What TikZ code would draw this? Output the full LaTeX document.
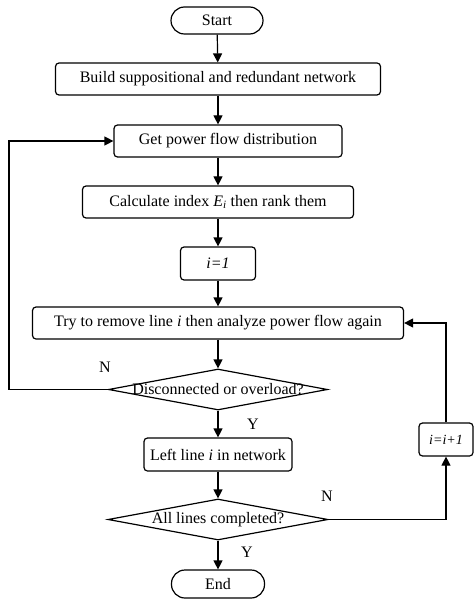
\documentclass[tikz,border=0pt]{standalone}
\usepackage{fontspec}
\setmainfont{Liberation Serif}
\usetikzlibrary{arrows.meta,shapes.geometric}
\begin{document}
\begin{tikzpicture}[x=1bp,y=-1bp,
  every node/.style={font=\fontsize{16bp}{19bp}\selectfont},
  proc/.style={draw, line width=1.2bp, rounded corners=3.5bp, inner sep=0pt, minimum height=32bp},
  term/.style={draw, line width=1.2bp, rounded corners=13.5bp, inner sep=0pt, minimum height=27bp},
  decision/.style={draw, diamond, line width=1.2bp, inner sep=0pt},
  arr/.style={draw, line width=1.2bp, -{Triangle[length=9bp,width=9bp]}},
  tag/.style={inner sep=0pt}]
  \useasboundingbox (0,0) rectangle (474,601);

  % main column
  \node[term, minimum width=92bp]  (start) at (217,20.5) {Start};
  \node[proc, minimum width=325bp] (build) at (218,79)   {Build suppositional and redundant network};
  \node[proc, minimum width=228bp] (get)   at (228,141)  {Get power flow distribution};
  \node[proc, minimum width=271bp] (calc)  at (218,202)  {Calculate index \textit{E\textsubscript{i}} then rank them};
  \node[proc, minimum width=75bp, minimum height=33bp] (i1) at (218,263.5) {\textit{i=1}};
  \node[proc, minimum width=371bp] (try)   at (218,323)  {Try to remove line \textit{i} then analyze power flow again};
  \node[decision, minimum width=219bp, minimum height=41bp] (d1) at (218,389.5) {\makebox[0pt]{Disconnected or overload?}};
  \node[proc, minimum width=148bp, minimum height=33bp] (left) at (218,454.5) {Left line \textit{i} in network};
  \node[decision, minimum width=220bp, minimum height=41bp] (d2) at (218,519.5) {\makebox[0pt]{All lines completed?}};
  \node[term, minimum width=93bp, minimum height=28bp] (end) at (218,584) {End};

  % increment box on the right
  \node[proc, minimum width=54bp, minimum height=33bp, font=\fontsize{14bp}{17bp}\selectfont] (inc) at (446,439.5) {\textit{i=i+1}};

  % branch labels
  \node[tag] (n1) at (105,367) {N};
  \node[tag] (y1) at (253,424) {Y};
  \node[tag] (n2) at (327,496) {N};
  \node[tag] (y2) at (247,552) {Y};

  % return path on the left
  \coordinate (lx) at (9,0);

  % connectors
  \draw[arr] (start) -- (build);
  \draw[arr] (build) -- (build |- get.north);
  \draw[arr] (build |- get.south) -- (calc);
  \draw[arr] (calc) -- (i1);
  \draw[arr] (i1) -- (try);
  \draw[arr] (try) -- (d1);
  \draw[arr] (d1) -- (left);
  \draw[arr] (left) -- (d2);
  \draw[arr] (d2) -- (end);
  \draw[arr] (d1.west) -- (d1.west -| lx) |- (get.west);
  \draw[arr] (d2.east) -| (inc.south);
  \draw[arr] (inc.north) |- (try.east);
\end{tikzpicture}
\end{document}
